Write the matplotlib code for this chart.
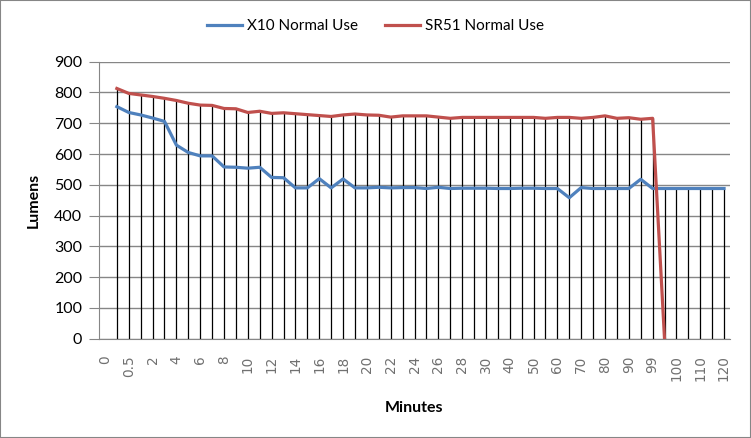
import numpy as np
import matplotlib
matplotlib.use('Agg')
import matplotlib.pyplot as plt
from matplotlib.patches import Rectangle

# Category labels (minutes); only every second one is shown on the axis
minutes = ['0', '0.25', '0.5', '1'] + [str(m) for m in range(2, 31)] + \
          [str(m) for m in range(35, 96, 5)] + ['99', '99.5', '100', '105', '110', '115', '120']

# Lumens (None = no reading)
x10 = [None, 754, 735, 727, 717, 706, 629, 605, 594, 594, 558, 557, 554, 557,
       524, 523, 490, 490, 520, 490, 519, 490, 490, 492, 490, 491, 491, 488,
       492, 488, 489, 489, 489, 488, 488, 489, 489, 488, 488, 458, 491, 488,
       488, 488, 488, 518, 488, 488, 488, 488, 488, 488, 488]
sr51 = [None, 813, 797, 792, 787, 781, 774, 765, 759, 758, 748, 747, 735, 739,
        732, 734, 731, 728, 725, 722, 727, 730, 727, 726, 720, 724, 724, 724,
        720, 716, 719, 719, 719, 719, 719, 719, 719, 716, 719, 719, 716, 719,
        724, 716, 718, 713, 716, 0, None, None, None, None, None]

blue = '#4F81BD'
red = '#C0504D'
grey = '#868686'

plt.rcParams['font.family'] = ['Lato', 'DejaVu Sans']

fig = plt.figure(figsize=(7.51, 4.38), dpi=100)
ax = fig.add_axes([99 / 751, 1 - 338.7 / 438, 631 / 751, 277 / 438])

ind = np.arange(len(minutes))
y1 = np.array([np.nan if v is None else v for v in x10], dtype=float)
y2 = np.array([np.nan if v is None else v for v in sr51], dtype=float)

# drop lines from the highest series down to the axis
top = np.fmax(y1, y2)
has = ~np.isnan(top)
ax.vlines(ind[has], 0, top[has], color='black', linewidth=0.9, zorder=2)

ax.plot(ind, y1, color=blue, linewidth=2.3, label='X10 Normal Use', zorder=3)
ax.plot(ind, y2, color=red, linewidth=2.3, label='SR51 Normal Use', zorder=3)

ax.set_xlim(-0.5, len(minutes) - 0.5)
ax.set_ylim(0, 900)
ax.set_yticks(np.arange(0, 901, 100))
ax.grid(axis='y', color=grey, linewidth=1, zorder=1)
ax.set_axisbelow(True)

ax.set_xticks(ind[::2])
ax.set_xticklabels(minutes[::2], rotation=90, family='DejaVu Sans',
                   fontsize=9.8, color='#707070', va='top')
ax.tick_params(axis='x', length=0, pad=12)
ax.tick_params(axis='y', length=7, color=grey, pad=5, labelsize=11.5)

for side in ['top', 'right']:
    ax.spines[side].set_visible(False)
ax.spines['left'].set_color(grey)
ax.spines['bottom'].set_color(grey)

ax.set_ylabel('Lumens', fontsize=11.5, fontweight='bold', labelpad=10)
ax.set_xlabel('Minutes', fontsize=11.5, fontweight='bold', labelpad=14)

fig.legend(loc='center', bbox_to_anchor=(0.5, 1 - 26 / 438), ncol=2,
           frameon=False, fontsize=11, handlelength=2.3, columnspacing=1.8,
           handletextpad=0.3)

# chart area border
fig.patches.append(Rectangle((0, 0), 1, 1, transform=fig.transFigure, fill=False,
                             edgecolor=grey, linewidth=1.5))

fig.savefig('out.png', dpi=100)
